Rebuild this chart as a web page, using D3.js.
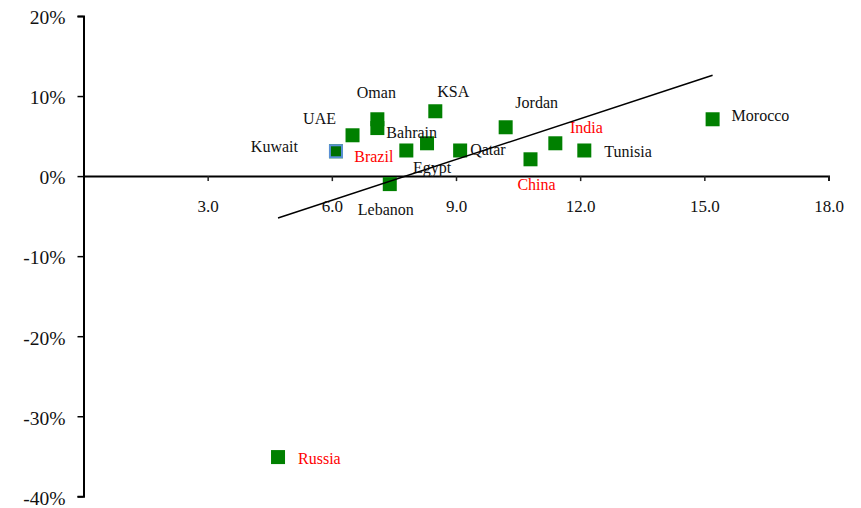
<!DOCTYPE html>
<html>
<head>
<meta charset="utf-8">
<script src="https://cdn.jsdelivr.net/npm/d3@7"></script>
<style>
  html, body { margin: 0; padding: 0; background: #fff; }
  svg { display: block; font-family: "Liberation Serif", "Times New Roman", serif; }
</style>
</head>
<body>
<svg id="chart" width="861" height="508"></svg>
<script>
// Countries plotted: horizontal value vs. percentage change
const countries = ["Kuwait", "UAE", "Oman", "Bahrain", "Brazil", "Egypt", "KSA", "Qatar",
                   "Lebanon", "Jordan", "China", "India", "Tunisia", "Morocco", "Russia"];
const xValues   = [6.1, 6.5, 7.1, 7.1, 7.8, 8.3, 8.5, 9.1, 7.4, 10.2, 10.8, 11.4, 12.1, 15.2, 4.7];
const yValues   = [3.1, 5.1, 7.1, 6.0, 3.2, 4.1, 8.1, 3.2, -1.0, 6.1, 2.1, 4.1, 3.2, 7.1, -35.1];
const bricGroup = ["Brazil", "Russia", "India", "China"];

const xTicks = [0, 3, 6, 9, 12, 15, 18];
const yTicks = [-40, -30, -20, -10, 0, 10, 20];

// Where each country's label sits relative to its marker (pixels)
const labelLayout = {
  Kuwait:  { anchor: "end",    dx: -38, dy: -5 },
  UAE:     { anchor: "middle", dx: -33, dy: -17 },
  Oman:    { anchor: "middle", dx: -1,  dy: -27 },
  Bahrain: { anchor: "start",  dx: 9,   dy: 4 },
  Brazil:  { anchor: "end",    dx: -13, dy: 6 },
  Egypt:   { anchor: "middle", dx: 5,   dy: 24 },
  KSA:     { anchor: "middle", dx: 18,  dy: -20 },
  Qatar:   { anchor: "start",  dx: 10,  dy: -1 },
  Lebanon: { anchor: "middle", dx: -4,  dy: 25 },
  Jordan:  { anchor: "middle", dx: 31,  dy: -25 },
  China:   { anchor: "middle", dx: 6,   dy: 25 },
  India:   { anchor: "middle", dx: 31,  dy: -16 },
  Tunisia: { anchor: "start",  dx: 20,  dy: 1 },
  Morocco: { anchor: "start",  dx: 19,  dy: -4 },
  Russia:  { anchor: "start",  dx: 20,  dy: 1 }
};

const points = countries.map((c, i) => ({ name: c, x: xValues[i], y: yValues[i] }));

const svg = d3.select("#chart");

const x = d3.scaleLinear().domain([0, 18]).range([83.5, 828.5]);
const y = d3.scaleLinear().domain([-40, 20]).range([496.3, 16]);

// Clip for the label at the origin, which sits under the vertical axis
svg.append("defs").append("clipPath").attr("id", "originClip")
  .append("rect").attr("x", 80).attr("y", 190).attr("width", 3.2).attr("height", 30);

// Horizontal axis through zero
const xAxis = svg.append("g")
  .attr("transform", `translate(0,${y(0)})`)
  .call(d3.axisBottom(x).tickValues(xTicks).tickFormat(d3.format(".1f")).tickSize(5).tickPadding(19));
xAxis.select(".domain").attr("stroke", "#000").attr("stroke-width", 2);
xAxis.selectAll(".tick line").attr("stroke", "#222").attr("stroke-width", 1.5);
xAxis.selectAll(".tick text")
  .attr("font-family", "Liberation Serif, Times New Roman, serif")
  .attr("font-size", 17).attr("fill", "#111");
xAxis.selectAll(".tick").filter(d => d === 0).select("text")
  .attr("clip-path", "url(#originClip)")
  .attr("transform", `translate(0,${-y(0)})`)
  .attr("y", y(0) + 30);

// Vertical axis
const yAxis = svg.append("g")
  .attr("transform", `translate(${x(0)},0)`)
  .call(d3.axisLeft(y).tickValues(yTicks).tickFormat(d => d + "%").tickSize(6).tickPadding(12));
yAxis.select(".domain").attr("stroke", "#000").attr("stroke-width", 2);
yAxis.selectAll(".tick line").attr("stroke", "#000").attr("stroke-width", 1.5);
yAxis.selectAll(".tick text")
  .attr("font-family", "Liberation Serif, Times New Roman, serif")
  .attr("font-size", 19.5).attr("fill", "#111").attr("dy", "0.4em");

// Markers
const size = 14;
svg.append("g").selectAll("rect").data(points).join("rect")
  .attr("x", d => x(d.x) - size / 2)
  .attr("y", d => y(d.y) - size / 2)
  .attr("width", size).attr("height", size)
  .attr("fill", "#008000");

// Kuwait's marker carries a blue outline
const kuwait = points.find(p => p.name === "Kuwait");
svg.append("rect")
  .attr("x", x(kuwait.x) - size / 2 + 1).attr("y", y(kuwait.y) - size / 2 + 1)
  .attr("width", size - 2).attr("height", size - 2)
  .attr("fill", "#007000").attr("stroke", "#5a8fd6").attr("stroke-width", 2);

// Labels
svg.append("g").selectAll("text").data(points).join("text")
  .attr("x", d => x(d.x) + labelLayout[d.name].dx)
  .attr("y", d => y(d.y) + labelLayout[d.name].dy)
  .attr("dy", "0.35em")
  .attr("text-anchor", d => labelLayout[d.name].anchor)
  .attr("font-size", 16)
  .attr("fill", d => bricGroup.includes(d.name) ? "#ff0000" : "#111")
  .text(d => d.name);

// Least-squares trend line across the range of the data
const mx = d3.mean(points, d => d.x), my = d3.mean(points, d => d.y);
const slope = d3.sum(points, d => (d.x - mx) * (d.y - my)) / d3.sum(points, d => (d.x - mx) ** 2);
const intercept = my - slope * mx;
const [x0, x1] = d3.extent(points, d => d.x);
svg.append("line")
  .attr("x1", x(x0)).attr("y1", y(intercept + slope * x0))
  .attr("x2", x(x1)).attr("y2", y(intercept + slope * x1))
  .attr("stroke", "#000").attr("stroke-width", 1.5);
</script>
</body>
</html>
